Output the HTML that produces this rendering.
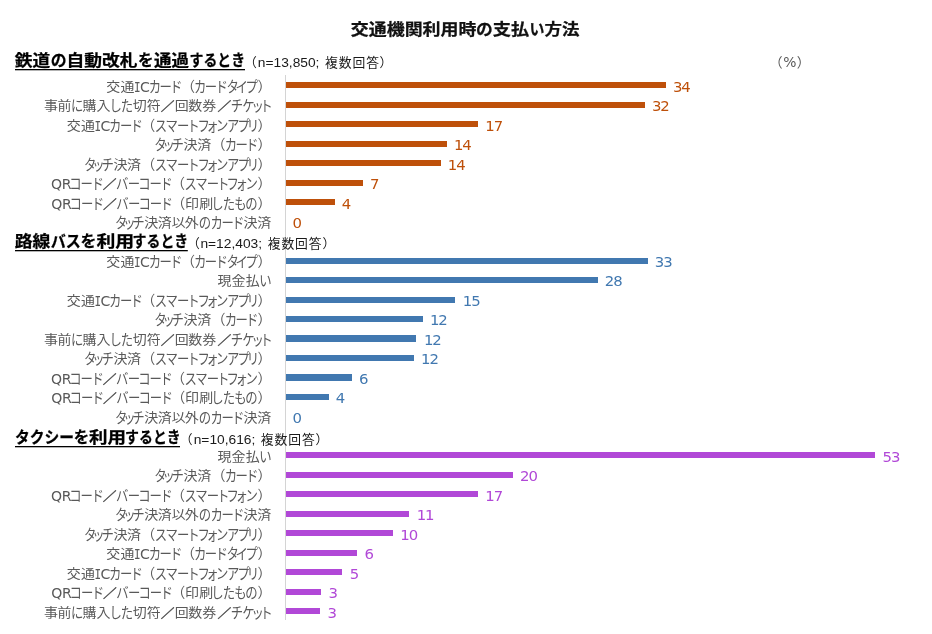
<!DOCTYPE html>
<html lang="ja"><head><meta charset="utf-8"><title>交通機関利用時の支払い方法</title>
<style>html,body{margin:0;padding:0;background:#fff}svg{display:block;font-family:'Liberation Sans','Noto Sans CJK JP',sans-serif}text{white-space:pre}</style></head><body>
<svg width="932" height="634" viewBox="0 0 932 634">
<rect width="932" height="634" fill="#fff"/>
<text aria-label="交通機関利用時の支払い方法" y="34.60" font-size="16.00" fill="#111" font-weight="bold" stroke="#111" stroke-width="0.25"><tspan x="350.86" textLength="125.58" lengthAdjust="spacingAndGlyphs">交通機関利用時</tspan><tspan x="475.91" textLength="16.76" lengthAdjust="spacingAndGlyphs" font-size="16.48">の</tspan><tspan x="492.85" textLength="36.41" lengthAdjust="spacingAndGlyphs">支払</tspan><tspan x="529.42" textLength="15.00" lengthAdjust="spacingAndGlyphs" font-size="16.48">い</tspan><tspan x="544.48" textLength="34.97" lengthAdjust="spacingAndGlyphs">方法</tspan></text>
<text aria-label="（%）" y="67.20" font-size="13.33" fill="#595959"><tspan x="769.20">（</tspan><tspan x="783.23" textLength="13.23" lengthAdjust="spacingAndGlyphs" font-family="'DejaVu Sans','Liberation Sans',sans-serif">%</tspan><tspan x="796.77">）</tspan></text>
<text aria-label="鉄道の自動改札を通過するとき" y="66.30" font-size="16.00" fill="#000" font-weight="bold" stroke="#000" stroke-width="0.25"><tspan x="14.82" textLength="35.42" lengthAdjust="spacingAndGlyphs">鉄道</tspan><tspan x="50.87" textLength="15.84" lengthAdjust="spacingAndGlyphs" font-size="16.48">の</tspan><tspan x="66.53" textLength="71.02" lengthAdjust="spacingAndGlyphs">自動改札</tspan><tspan x="138.11" textLength="15.54" lengthAdjust="spacingAndGlyphs" font-size="16.48">を</tspan><tspan x="153.95" textLength="35.09" lengthAdjust="spacingAndGlyphs">通過</tspan><tspan x="189.62" textLength="55.48" lengthAdjust="spacingAndGlyphs" font-size="16.48">するとき</tspan></text>
<rect x="15.0" y="69.0" width="230.0" height="1.3" fill="#000"/>
<text aria-label="路線バスを利用するとき" y="247.30" font-size="16.00" fill="#000" font-weight="bold" stroke="#000" stroke-width="0.25"><tspan x="14.75" textLength="35.61" lengthAdjust="spacingAndGlyphs">路線</tspan><tspan x="50.67" textLength="30.13" lengthAdjust="spacingAndGlyphs" font-size="16.48">バス</tspan><tspan x="80.59" textLength="15.90" lengthAdjust="spacingAndGlyphs" font-size="16.48">を</tspan><tspan x="96.42" textLength="37.77" lengthAdjust="spacingAndGlyphs">利用</tspan><tspan x="132.62" textLength="55.59" lengthAdjust="spacingAndGlyphs" font-size="16.48">するとき</tspan></text>
<rect x="15.0" y="250.0" width="172.8" height="1.3" fill="#000"/>
<text aria-label="タクシーを利用するとき" y="443.30" font-size="16.00" fill="#000" font-weight="bold" stroke="#000" stroke-width="0.25"><tspan x="14.91" textLength="59.01" lengthAdjust="spacingAndGlyphs" font-size="16.48">タクシー</tspan><tspan x="73.72" textLength="15.42" lengthAdjust="spacingAndGlyphs" font-size="16.48">を</tspan><tspan x="88.93" textLength="37.03" lengthAdjust="spacingAndGlyphs">利用</tspan><tspan x="125.12" textLength="55.59" lengthAdjust="spacingAndGlyphs" font-size="16.48">するとき</tspan></text>
<rect x="15.0" y="446.0" width="165.0" height="1.3" fill="#000"/>
<rect x="285" y="75" width="1" height="545" fill="#d4d4d4"/>
<text aria-label="（n=13,850; 複数回答）" y="67.40" font-size="12.80" fill="#1a1a1a"><tspan y="67.40" x="243.99">（</tspan><tspan y="66.80" x="257.80" textLength="65.49" lengthAdjust="spacingAndGlyphs" font-family="'Liberation Sans',sans-serif" font-size="13.60">n=13,850; </tspan><tspan y="67.40" x="325.12 338.81 352.49 366.18">複数回答</tspan><tspan y="67.40" x="379.56">）</tspan></text>
<rect x="286" y="82" width="380" height="6" fill="#BE500A"/>
<text aria-label="交通ICカード（カードタイプ）" y="91.90" font-size="13.33" fill="#595959"><tspan x="106.33 120.57" y="91.20" font-size="12.60" textLength="27.92" lengthAdjust="spacingAndGlyphs">交通</tspan><tspan x="134.06" y="91.90" font-size="13.70" font-family="'DejaVu Sans Mono','Liberation Mono',monospace" textLength="6.59" lengthAdjust="spacingAndGlyphs">I</tspan><tspan x="140.13" y="91.90" font-size="13.70" font-family="'DejaVu Sans','Liberation Sans',sans-serif" textLength="9.85" lengthAdjust="spacingAndGlyphs">C</tspan><tspan x="148.63 159.56 170.09" y="92.40" font-size="14.80" textLength="37.13" lengthAdjust="spacingAndGlyphs">カード</tspan><tspan x="180.90" y="90.90" font-size="14.00">（</tspan><tspan x="194.03 204.66 215.59 226.48 235.57 245.50" y="92.40" font-size="14.80" textLength="74.25" lengthAdjust="spacingAndGlyphs">カードタイプ</tspan><tspan x="257.55" y="90.90" font-size="14.00">）</tspan></text>
<text x="672.98 681.38" y="91.90" font-size="13.33" fill="#BE500A" font-family="'DejaVu Sans','Liberation Sans',sans-serif" textLength="18.96" lengthAdjust="spacingAndGlyphs">34</text>
<rect x="286" y="102" width="359" height="6" fill="#BE500A"/>
<text aria-label="事前に購入した切符／回数券／チケット" y="110.90" font-size="13.33" fill="#595959"><tspan x="44.02 57.62" y="110.20" font-size="12.60" textLength="27.92" lengthAdjust="spacingAndGlyphs">事前</tspan><tspan x="70.96" y="111.40" font-size="14.80" textLength="12.38" lengthAdjust="spacingAndGlyphs">に</tspan><tspan x="82.59 96.43" y="110.20" font-size="12.60" textLength="27.92" lengthAdjust="spacingAndGlyphs">購入</tspan><tspan x="109.38 120.75" y="111.40" font-size="14.80" textLength="24.75" lengthAdjust="spacingAndGlyphs">した</tspan><tspan x="132.68 146.66" y="110.20" font-size="12.60" textLength="27.92" lengthAdjust="spacingAndGlyphs">切符</tspan><tspan x="160.77" y="111.20" font-size="12.60" stroke="#595959" stroke-width="0.45" textLength="13.76" lengthAdjust="spacingAndGlyphs">／</tspan><tspan x="174.87 188.18 202.27" y="110.20" font-size="12.60" textLength="41.89" lengthAdjust="spacingAndGlyphs">回数券</tspan><tspan x="217.47" y="111.20" font-size="12.60" stroke="#595959" stroke-width="0.45" textLength="13.76" lengthAdjust="spacingAndGlyphs">／</tspan><tspan x="230.71 242.29 251.54 260.18" y="111.40" font-size="14.80" textLength="49.50" lengthAdjust="spacingAndGlyphs">チケット</tspan></text>
<text x="651.98 660.38" y="110.90" font-size="13.33" fill="#BE500A" font-family="'DejaVu Sans','Liberation Sans',sans-serif" textLength="18.96" lengthAdjust="spacingAndGlyphs">32</text>
<rect x="286" y="121" width="192" height="6" fill="#BE500A"/>
<text aria-label="交通ICカード（スマートフォンアプリ）" y="130.90" font-size="13.33" fill="#595959"><tspan x="66.73 80.97" y="130.20" font-size="12.60" textLength="27.92" lengthAdjust="spacingAndGlyphs">交通</tspan><tspan x="94.46" y="130.90" font-size="13.70" font-family="'DejaVu Sans Mono','Liberation Mono',monospace" textLength="6.59" lengthAdjust="spacingAndGlyphs">I</tspan><tspan x="100.53" y="130.90" font-size="13.70" font-family="'DejaVu Sans','Liberation Sans',sans-serif" textLength="9.85" lengthAdjust="spacingAndGlyphs">C</tspan><tspan x="109.03 119.96 130.49" y="131.40" font-size="14.80" textLength="37.13" lengthAdjust="spacingAndGlyphs">カード</tspan><tspan x="141.30" y="129.90" font-size="14.00">（</tspan><tspan x="154.76 165.53 176.91 187.13 197.53 206.20 216.11 226.97 237.45 246.79" y="131.40" font-size="14.80" textLength="123.75" lengthAdjust="spacingAndGlyphs">スマートフォンアプリ</tspan><tspan x="257.40" y="129.90" font-size="14.00">）</tspan></text>
<text x="485.36 493.76" y="130.90" font-size="13.33" fill="#BE500A" font-family="'DejaVu Sans','Liberation Sans',sans-serif" textLength="18.96" lengthAdjust="spacingAndGlyphs">17</text>
<rect x="286" y="141" width="161" height="6" fill="#BE500A"/>
<text aria-label="タッチ決済（カード）" y="149.90" font-size="13.33" fill="#595959"><tspan x="154.18 162.44 171.51" y="150.40" font-size="14.80" textLength="37.13" lengthAdjust="spacingAndGlyphs">タッチ</tspan><tspan x="183.50 197.15" y="149.20" font-size="12.60" textLength="27.92" lengthAdjust="spacingAndGlyphs">決済</tspan><tspan x="211.40" y="148.90" font-size="14.00">（</tspan><tspan x="224.68 235.61 245.94" y="150.40" font-size="14.80" textLength="37.13" lengthAdjust="spacingAndGlyphs">カード</tspan><tspan x="257.55" y="148.90" font-size="14.00">）</tspan></text>
<text x="453.96 462.36" y="149.90" font-size="13.33" fill="#BE500A" font-family="'DejaVu Sans','Liberation Sans',sans-serif" textLength="18.96" lengthAdjust="spacingAndGlyphs">14</text>
<rect x="286" y="160" width="155" height="6" fill="#BE500A"/>
<text aria-label="タッチ決済（スマートフォンアプリ）" y="169.90" font-size="13.33" fill="#595959"><tspan x="84.08 92.34 101.41" y="170.40" font-size="14.80" textLength="37.13" lengthAdjust="spacingAndGlyphs">タッチ</tspan><tspan x="113.40 127.05" y="169.20" font-size="12.60" textLength="27.92" lengthAdjust="spacingAndGlyphs">決済</tspan><tspan x="141.30" y="168.90" font-size="14.00">（</tspan><tspan x="154.76 165.53 176.91 187.13 197.53 206.20 216.11 226.97 237.45 246.79" y="170.40" font-size="14.80" textLength="123.75" lengthAdjust="spacingAndGlyphs">スマートフォンアプリ</tspan><tspan x="257.40" y="168.90" font-size="14.00">）</tspan></text>
<text x="447.86 456.26" y="169.90" font-size="13.33" fill="#BE500A" font-family="'DejaVu Sans','Liberation Sans',sans-serif" textLength="18.96" lengthAdjust="spacingAndGlyphs">14</text>
<rect x="286" y="180" width="77" height="6" fill="#BE500A"/>
<text aria-label="QRコード／バーコード（スマートフォン）" y="188.90" font-size="13.33" fill="#595959"><tspan x="51.08 61.75" y="188.90" font-size="13.70" font-family="'DejaVu Sans','Liberation Sans',sans-serif" textLength="20.82" lengthAdjust="spacingAndGlyphs">QR</tspan><tspan x="69.30 80.61 91.39" y="189.40" font-size="14.80" textLength="37.13" lengthAdjust="spacingAndGlyphs">コード</tspan><tspan x="102.67" y="189.20" font-size="12.60" stroke="#595959" stroke-width="0.45" textLength="13.76" lengthAdjust="spacingAndGlyphs">／</tspan><tspan x="116.06 127.81 138.15 149.41 160.24" y="189.40" font-size="14.80" textLength="61.88" lengthAdjust="spacingAndGlyphs">バーコード</tspan><tspan x="171.00" y="187.90" font-size="14.00">（</tspan><tspan x="184.56 195.33 206.71 216.93 226.58 235.60 245.51" y="189.40" font-size="14.80" textLength="86.63" lengthAdjust="spacingAndGlyphs">スマートフォン</tspan><tspan x="257.55" y="187.90" font-size="14.00">）</tspan></text>
<text x="370.01" y="188.90" font-size="13.33" fill="#BE500A" font-family="'DejaVu Sans','Liberation Sans',sans-serif" textLength="9.48" lengthAdjust="spacingAndGlyphs">7</text>
<rect x="286" y="199" width="49" height="6" fill="#BE500A"/>
<text aria-label="QRコード／バーコード（印刷したもの）" y="208.90" font-size="13.33" fill="#595959"><tspan x="51.38 62.05" y="208.90" font-size="13.70" font-family="'DejaVu Sans','Liberation Sans',sans-serif" textLength="20.82" lengthAdjust="spacingAndGlyphs">QR</tspan><tspan x="69.60 80.91 91.69" y="209.40" font-size="14.80" textLength="37.13" lengthAdjust="spacingAndGlyphs">コード</tspan><tspan x="102.97" y="209.20" font-size="12.60" stroke="#595959" stroke-width="0.45" textLength="13.76" lengthAdjust="spacingAndGlyphs">／</tspan><tspan x="116.36 128.11 138.45 149.71 160.54" y="209.40" font-size="14.80" textLength="61.88" lengthAdjust="spacingAndGlyphs">バーコード</tspan><tspan x="171.30" y="207.90" font-size="14.00">（</tspan><tspan x="185.14 199.22" y="208.20" font-size="12.60" textLength="27.92" lengthAdjust="spacingAndGlyphs">印刷</tspan><tspan x="211.23 222.80 234.28 245.19" y="209.40" font-size="14.80" textLength="49.50" lengthAdjust="spacingAndGlyphs">したもの</tspan><tspan x="257.55" y="207.90" font-size="14.00">）</tspan></text>
<text x="341.75" y="208.90" font-size="13.33" fill="#BE500A" font-family="'DejaVu Sans','Liberation Sans',sans-serif" textLength="9.48" lengthAdjust="spacingAndGlyphs">4</text>
<text aria-label="タッチ決済以外のカード決済" y="227.90" font-size="13.33" fill="#595959"><tspan x="114.88 123.14 132.21" y="228.40" font-size="14.80" textLength="37.13" lengthAdjust="spacingAndGlyphs">タッチ</tspan><tspan x="144.15 157.80 171.48 184.75" y="227.20" font-size="12.60" textLength="55.85" lengthAdjust="spacingAndGlyphs">決済以外</tspan><tspan x="198.84 210.53 221.51 231.89" y="228.40" font-size="14.80" textLength="49.50" lengthAdjust="spacingAndGlyphs">のカード</tspan><tspan x="243.45 257.30" y="227.20" font-size="12.60" textLength="27.92" lengthAdjust="spacingAndGlyphs">決済</tspan></text>
<text x="292.43" y="227.90" font-size="13.33" fill="#BE500A" font-family="'DejaVu Sans','Liberation Sans',sans-serif" textLength="9.48" lengthAdjust="spacingAndGlyphs">0</text>
<text aria-label="（n=12,403; 複数回答）" y="248.20" font-size="12.80" fill="#1a1a1a"><tspan y="248.20" x="186.99">（</tspan><tspan y="247.60" x="200.40" textLength="65.49" lengthAdjust="spacingAndGlyphs" font-family="'Liberation Sans',sans-serif" font-size="13.60">n=12,403; </tspan><tspan y="248.20" x="267.72 281.41 295.09 308.78">複数回答</tspan><tspan y="248.20" x="322.41">）</tspan></text>
<rect x="286" y="258" width="362" height="6" fill="#4178B0"/>
<text aria-label="交通ICカード（カードタイプ）" y="266.90" font-size="13.33" fill="#595959"><tspan x="106.33 120.57" y="266.20" font-size="12.60" textLength="27.92" lengthAdjust="spacingAndGlyphs">交通</tspan><tspan x="134.06" y="266.90" font-size="13.70" font-family="'DejaVu Sans Mono','Liberation Mono',monospace" textLength="6.59" lengthAdjust="spacingAndGlyphs">I</tspan><tspan x="140.13" y="266.90" font-size="13.70" font-family="'DejaVu Sans','Liberation Sans',sans-serif" textLength="9.85" lengthAdjust="spacingAndGlyphs">C</tspan><tspan x="148.63 159.56 170.09" y="267.40" font-size="14.80" textLength="37.13" lengthAdjust="spacingAndGlyphs">カード</tspan><tspan x="180.90" y="265.90" font-size="14.00">（</tspan><tspan x="194.03 204.66 215.59 226.48 235.57 245.50" y="267.40" font-size="14.80" textLength="74.25" lengthAdjust="spacingAndGlyphs">カードタイプ</tspan><tspan x="257.55" y="265.90" font-size="14.00">）</tspan></text>
<text x="654.78 663.18" y="266.90" font-size="13.33" fill="#4178B0" font-family="'DejaVu Sans','Liberation Sans',sans-serif" textLength="18.96" lengthAdjust="spacingAndGlyphs">33</text>
<rect x="286" y="277" width="312" height="6" fill="#4178B0"/>
<text aria-label="現金払い" y="285.90" font-size="13.33" fill="#595959"><tspan x="217.53 231.63 245.83" y="285.20" font-size="12.60" textLength="41.89" lengthAdjust="spacingAndGlyphs">現金払</tspan><tspan x="259.28" y="286.40" font-size="14.80" textLength="12.38" lengthAdjust="spacingAndGlyphs">い</tspan></text>
<text x="604.85 613.25" y="285.90" font-size="13.33" fill="#4178B0" font-family="'DejaVu Sans','Liberation Sans',sans-serif" textLength="18.96" lengthAdjust="spacingAndGlyphs">28</text>
<rect x="286" y="297" width="169" height="6" fill="#4178B0"/>
<text aria-label="交通ICカード（スマートフォンアプリ）" y="305.90" font-size="13.33" fill="#595959"><tspan x="66.73 80.97" y="305.20" font-size="12.60" textLength="27.92" lengthAdjust="spacingAndGlyphs">交通</tspan><tspan x="94.46" y="305.90" font-size="13.70" font-family="'DejaVu Sans Mono','Liberation Mono',monospace" textLength="6.59" lengthAdjust="spacingAndGlyphs">I</tspan><tspan x="100.53" y="305.90" font-size="13.70" font-family="'DejaVu Sans','Liberation Sans',sans-serif" textLength="9.85" lengthAdjust="spacingAndGlyphs">C</tspan><tspan x="109.03 119.96 130.49" y="306.40" font-size="14.80" textLength="37.13" lengthAdjust="spacingAndGlyphs">カード</tspan><tspan x="141.30" y="304.90" font-size="14.00">（</tspan><tspan x="154.76 165.53 176.91 187.13 197.53 206.20 216.11 226.97 237.45 246.79" y="306.40" font-size="14.80" textLength="123.75" lengthAdjust="spacingAndGlyphs">スマートフォンアプリ</tspan><tspan x="257.40" y="304.90" font-size="14.00">）</tspan></text>
<text x="462.76 471.16" y="305.90" font-size="13.33" fill="#4178B0" font-family="'DejaVu Sans','Liberation Sans',sans-serif" textLength="18.96" lengthAdjust="spacingAndGlyphs">15</text>
<rect x="286" y="316" width="137" height="6" fill="#4178B0"/>
<text aria-label="タッチ決済（カード）" y="324.90" font-size="13.33" fill="#595959"><tspan x="154.18 162.44 171.51" y="325.40" font-size="14.80" textLength="37.13" lengthAdjust="spacingAndGlyphs">タッチ</tspan><tspan x="183.50 197.15" y="324.20" font-size="12.60" textLength="27.92" lengthAdjust="spacingAndGlyphs">決済</tspan><tspan x="211.40" y="323.90" font-size="14.00">（</tspan><tspan x="224.68 235.61 245.94" y="325.40" font-size="14.80" textLength="37.13" lengthAdjust="spacingAndGlyphs">カード</tspan><tspan x="257.55" y="323.90" font-size="14.00">）</tspan></text>
<text x="429.96 438.36" y="324.90" font-size="13.33" fill="#4178B0" font-family="'DejaVu Sans','Liberation Sans',sans-serif" textLength="18.96" lengthAdjust="spacingAndGlyphs">12</text>
<rect x="286" y="335" width="130" height="7" fill="#4178B0"/>
<text aria-label="事前に購入した切符／回数券／チケット" y="344.90" font-size="13.33" fill="#595959"><tspan x="44.02 57.62" y="344.20" font-size="12.60" textLength="27.92" lengthAdjust="spacingAndGlyphs">事前</tspan><tspan x="70.96" y="345.40" font-size="14.80" textLength="12.38" lengthAdjust="spacingAndGlyphs">に</tspan><tspan x="82.59 96.43" y="344.20" font-size="12.60" textLength="27.92" lengthAdjust="spacingAndGlyphs">購入</tspan><tspan x="109.38 120.75" y="345.40" font-size="14.80" textLength="24.75" lengthAdjust="spacingAndGlyphs">した</tspan><tspan x="132.68 146.66" y="344.20" font-size="12.60" textLength="27.92" lengthAdjust="spacingAndGlyphs">切符</tspan><tspan x="160.77" y="345.20" font-size="12.60" stroke="#595959" stroke-width="0.45" textLength="13.76" lengthAdjust="spacingAndGlyphs">／</tspan><tspan x="174.87 188.18 202.27" y="344.20" font-size="12.60" textLength="41.89" lengthAdjust="spacingAndGlyphs">回数券</tspan><tspan x="217.47" y="345.20" font-size="12.60" stroke="#595959" stroke-width="0.45" textLength="13.76" lengthAdjust="spacingAndGlyphs">／</tspan><tspan x="230.71 242.29 251.54 260.18" y="345.40" font-size="14.80" textLength="49.50" lengthAdjust="spacingAndGlyphs">チケット</tspan></text>
<text x="423.96 432.36" y="344.90" font-size="13.33" fill="#4178B0" font-family="'DejaVu Sans','Liberation Sans',sans-serif" textLength="18.96" lengthAdjust="spacingAndGlyphs">12</text>
<rect x="286" y="355" width="128" height="6" fill="#4178B0"/>
<text aria-label="タッチ決済（スマートフォンアプリ）" y="363.90" font-size="13.33" fill="#595959"><tspan x="84.08 92.34 101.41" y="364.40" font-size="14.80" textLength="37.13" lengthAdjust="spacingAndGlyphs">タッチ</tspan><tspan x="113.40 127.05" y="363.20" font-size="12.60" textLength="27.92" lengthAdjust="spacingAndGlyphs">決済</tspan><tspan x="141.30" y="362.90" font-size="14.00">（</tspan><tspan x="154.76 165.53 176.91 187.13 197.53 206.20 216.11 226.97 237.45 246.79" y="364.40" font-size="14.80" textLength="123.75" lengthAdjust="spacingAndGlyphs">スマートフォンアプリ</tspan><tspan x="257.40" y="362.90" font-size="14.00">）</tspan></text>
<text x="421.06 429.46" y="363.90" font-size="13.33" fill="#4178B0" font-family="'DejaVu Sans','Liberation Sans',sans-serif" textLength="18.96" lengthAdjust="spacingAndGlyphs">12</text>
<rect x="286" y="374" width="66" height="7" fill="#4178B0"/>
<text aria-label="QRコード／バーコード（スマートフォン）" y="383.90" font-size="13.33" fill="#595959"><tspan x="51.08 61.75" y="383.90" font-size="13.70" font-family="'DejaVu Sans','Liberation Sans',sans-serif" textLength="20.82" lengthAdjust="spacingAndGlyphs">QR</tspan><tspan x="69.30 80.61 91.39" y="384.40" font-size="14.80" textLength="37.13" lengthAdjust="spacingAndGlyphs">コード</tspan><tspan x="102.67" y="384.20" font-size="12.60" stroke="#595959" stroke-width="0.45" textLength="13.76" lengthAdjust="spacingAndGlyphs">／</tspan><tspan x="116.06 127.81 138.15 149.41 160.24" y="384.40" font-size="14.80" textLength="61.88" lengthAdjust="spacingAndGlyphs">バーコード</tspan><tspan x="171.00" y="382.90" font-size="14.00">（</tspan><tspan x="184.56 195.33 206.71 216.93 226.58 235.60 245.51" y="384.40" font-size="14.80" textLength="86.63" lengthAdjust="spacingAndGlyphs">スマートフォン</tspan><tspan x="257.55" y="382.90" font-size="14.00">）</tspan></text>
<text x="358.95" y="383.90" font-size="13.33" fill="#4178B0" font-family="'DejaVu Sans','Liberation Sans',sans-serif" textLength="9.48" lengthAdjust="spacingAndGlyphs">6</text>
<rect x="286" y="394" width="43" height="6" fill="#4178B0"/>
<text aria-label="QRコード／バーコード（印刷したもの）" y="402.90" font-size="13.33" fill="#595959"><tspan x="51.38 62.05" y="402.90" font-size="13.70" font-family="'DejaVu Sans','Liberation Sans',sans-serif" textLength="20.82" lengthAdjust="spacingAndGlyphs">QR</tspan><tspan x="69.60 80.91 91.69" y="403.40" font-size="14.80" textLength="37.13" lengthAdjust="spacingAndGlyphs">コード</tspan><tspan x="102.97" y="403.20" font-size="12.60" stroke="#595959" stroke-width="0.45" textLength="13.76" lengthAdjust="spacingAndGlyphs">／</tspan><tspan x="116.36 128.11 138.45 149.71 160.54" y="403.40" font-size="14.80" textLength="61.88" lengthAdjust="spacingAndGlyphs">バーコード</tspan><tspan x="171.30" y="401.90" font-size="14.00">（</tspan><tspan x="185.14 199.22" y="402.20" font-size="12.60" textLength="27.92" lengthAdjust="spacingAndGlyphs">印刷</tspan><tspan x="211.23 222.80 234.28 245.19" y="403.40" font-size="14.80" textLength="49.50" lengthAdjust="spacingAndGlyphs">したもの</tspan><tspan x="257.55" y="401.90" font-size="14.00">）</tspan></text>
<text x="335.75" y="402.90" font-size="13.33" fill="#4178B0" font-family="'DejaVu Sans','Liberation Sans',sans-serif" textLength="9.48" lengthAdjust="spacingAndGlyphs">4</text>
<text aria-label="タッチ決済以外のカード決済" y="422.90" font-size="13.33" fill="#595959"><tspan x="114.88 123.14 132.21" y="423.40" font-size="14.80" textLength="37.13" lengthAdjust="spacingAndGlyphs">タッチ</tspan><tspan x="144.15 157.80 171.48 184.75" y="422.20" font-size="12.60" textLength="55.85" lengthAdjust="spacingAndGlyphs">決済以外</tspan><tspan x="198.84 210.53 221.51 231.89" y="423.40" font-size="14.80" textLength="49.50" lengthAdjust="spacingAndGlyphs">のカード</tspan><tspan x="243.45 257.30" y="422.20" font-size="12.60" textLength="27.92" lengthAdjust="spacingAndGlyphs">決済</tspan></text>
<text x="292.43" y="422.90" font-size="13.33" fill="#4178B0" font-family="'DejaVu Sans','Liberation Sans',sans-serif" textLength="9.48" lengthAdjust="spacingAndGlyphs">0</text>
<text aria-label="（n=10,616; 複数回答）" y="444.20" font-size="12.80" fill="#1a1a1a"><tspan y="444.20" x="179.84">（</tspan><tspan y="443.60" x="193.70" textLength="65.49" lengthAdjust="spacingAndGlyphs" font-family="'Liberation Sans',sans-serif" font-size="13.60">n=10,616; </tspan><tspan y="444.20" x="260.82 274.51 288.19 301.88">複数回答</tspan><tspan y="444.20" x="315.51">）</tspan></text>
<rect x="286" y="452" width="589" height="6" fill="#B148D7"/>
<text aria-label="現金払い" y="461.90" font-size="13.33" fill="#595959"><tspan x="217.53 231.63 245.83" y="461.20" font-size="12.60" textLength="41.89" lengthAdjust="spacingAndGlyphs">現金払</tspan><tspan x="259.28" y="462.40" font-size="14.80" textLength="12.38" lengthAdjust="spacingAndGlyphs">い</tspan></text>
<text x="882.58 890.98" y="461.90" font-size="13.33" fill="#B148D7" font-family="'DejaVu Sans','Liberation Sans',sans-serif" textLength="18.96" lengthAdjust="spacingAndGlyphs">53</text>
<rect x="286" y="472" width="227" height="6" fill="#B148D7"/>
<text aria-label="タッチ決済（カード）" y="480.90" font-size="13.33" fill="#595959"><tspan x="154.18 162.44 171.51" y="481.40" font-size="14.80" textLength="37.13" lengthAdjust="spacingAndGlyphs">タッチ</tspan><tspan x="183.50 197.15" y="480.20" font-size="12.60" textLength="27.92" lengthAdjust="spacingAndGlyphs">決済</tspan><tspan x="211.40" y="479.90" font-size="14.00">（</tspan><tspan x="224.68 235.61 245.94" y="481.40" font-size="14.80" textLength="37.13" lengthAdjust="spacingAndGlyphs">カード</tspan><tspan x="257.55" y="479.90" font-size="14.00">）</tspan></text>
<text x="520.05 528.45" y="480.90" font-size="13.33" fill="#B148D7" font-family="'DejaVu Sans','Liberation Sans',sans-serif" textLength="18.96" lengthAdjust="spacingAndGlyphs">20</text>
<rect x="286" y="491" width="192" height="6" fill="#B148D7"/>
<text aria-label="QRコード／バーコード（スマートフォン）" y="500.90" font-size="13.33" fill="#595959"><tspan x="51.08 61.75" y="500.90" font-size="13.70" font-family="'DejaVu Sans','Liberation Sans',sans-serif" textLength="20.82" lengthAdjust="spacingAndGlyphs">QR</tspan><tspan x="69.30 80.61 91.39" y="501.40" font-size="14.80" textLength="37.13" lengthAdjust="spacingAndGlyphs">コード</tspan><tspan x="102.67" y="501.20" font-size="12.60" stroke="#595959" stroke-width="0.45" textLength="13.76" lengthAdjust="spacingAndGlyphs">／</tspan><tspan x="116.06 127.81 138.15 149.41 160.24" y="501.40" font-size="14.80" textLength="61.88" lengthAdjust="spacingAndGlyphs">バーコード</tspan><tspan x="171.00" y="499.90" font-size="14.00">（</tspan><tspan x="184.56 195.33 206.71 216.93 226.58 235.60 245.51" y="501.40" font-size="14.80" textLength="86.63" lengthAdjust="spacingAndGlyphs">スマートフォン</tspan><tspan x="257.55" y="499.90" font-size="14.00">）</tspan></text>
<text x="485.36 493.76" y="500.90" font-size="13.33" fill="#B148D7" font-family="'DejaVu Sans','Liberation Sans',sans-serif" textLength="18.96" lengthAdjust="spacingAndGlyphs">17</text>
<rect x="286" y="511" width="123" height="6" fill="#B148D7"/>
<text aria-label="タッチ決済以外のカード決済" y="519.90" font-size="13.33" fill="#595959"><tspan x="114.88 123.14 132.21" y="520.40" font-size="14.80" textLength="37.13" lengthAdjust="spacingAndGlyphs">タッチ</tspan><tspan x="144.15 157.80 171.48 184.75" y="519.20" font-size="12.60" textLength="55.85" lengthAdjust="spacingAndGlyphs">決済以外</tspan><tspan x="198.84 210.53 221.51 231.89" y="520.40" font-size="14.80" textLength="49.50" lengthAdjust="spacingAndGlyphs">のカード</tspan><tspan x="243.45 257.30" y="519.20" font-size="12.60" textLength="27.92" lengthAdjust="spacingAndGlyphs">決済</tspan></text>
<text x="416.66 425.06" y="519.90" font-size="13.33" fill="#B148D7" font-family="'DejaVu Sans','Liberation Sans',sans-serif" textLength="18.96" lengthAdjust="spacingAndGlyphs">11</text>
<rect x="286" y="530" width="107" height="6" fill="#B148D7"/>
<text aria-label="タッチ決済（スマートフォンアプリ）" y="539.90" font-size="13.33" fill="#595959"><tspan x="84.08 92.34 101.41" y="540.40" font-size="14.80" textLength="37.13" lengthAdjust="spacingAndGlyphs">タッチ</tspan><tspan x="113.40 127.05" y="539.20" font-size="12.60" textLength="27.92" lengthAdjust="spacingAndGlyphs">決済</tspan><tspan x="141.30" y="538.90" font-size="14.00">（</tspan><tspan x="154.76 165.53 176.91 187.13 197.53 206.20 216.11 226.97 237.45 246.79" y="540.40" font-size="14.80" textLength="123.75" lengthAdjust="spacingAndGlyphs">スマートフォンアプリ</tspan><tspan x="257.40" y="538.90" font-size="14.00">）</tspan></text>
<text x="400.36 408.76" y="539.90" font-size="13.33" fill="#B148D7" font-family="'DejaVu Sans','Liberation Sans',sans-serif" textLength="18.96" lengthAdjust="spacingAndGlyphs">10</text>
<rect x="286" y="550" width="71" height="6" fill="#B148D7"/>
<text aria-label="交通ICカード（カードタイプ）" y="558.90" font-size="13.33" fill="#595959"><tspan x="106.33 120.57" y="558.20" font-size="12.60" textLength="27.92" lengthAdjust="spacingAndGlyphs">交通</tspan><tspan x="134.06" y="558.90" font-size="13.70" font-family="'DejaVu Sans Mono','Liberation Mono',monospace" textLength="6.59" lengthAdjust="spacingAndGlyphs">I</tspan><tspan x="140.13" y="558.90" font-size="13.70" font-family="'DejaVu Sans','Liberation Sans',sans-serif" textLength="9.85" lengthAdjust="spacingAndGlyphs">C</tspan><tspan x="148.63 159.56 170.09" y="559.40" font-size="14.80" textLength="37.13" lengthAdjust="spacingAndGlyphs">カード</tspan><tspan x="180.90" y="557.90" font-size="14.00">（</tspan><tspan x="194.03 204.66 215.59 226.48 235.57 245.50" y="559.40" font-size="14.80" textLength="74.25" lengthAdjust="spacingAndGlyphs">カードタイプ</tspan><tspan x="257.55" y="557.90" font-size="14.00">）</tspan></text>
<text x="364.45" y="558.90" font-size="13.33" fill="#B148D7" font-family="'DejaVu Sans','Liberation Sans',sans-serif" textLength="9.48" lengthAdjust="spacingAndGlyphs">6</text>
<rect x="286" y="569" width="56" height="6" fill="#B148D7"/>
<text aria-label="交通ICカード（スマートフォンアプリ）" y="578.90" font-size="13.33" fill="#595959"><tspan x="66.73 80.97" y="578.20" font-size="12.60" textLength="27.92" lengthAdjust="spacingAndGlyphs">交通</tspan><tspan x="94.46" y="578.90" font-size="13.70" font-family="'DejaVu Sans Mono','Liberation Mono',monospace" textLength="6.59" lengthAdjust="spacingAndGlyphs">I</tspan><tspan x="100.53" y="578.90" font-size="13.70" font-family="'DejaVu Sans','Liberation Sans',sans-serif" textLength="9.85" lengthAdjust="spacingAndGlyphs">C</tspan><tspan x="109.03 119.96 130.49" y="579.40" font-size="14.80" textLength="37.13" lengthAdjust="spacingAndGlyphs">カード</tspan><tspan x="141.30" y="577.90" font-size="14.00">（</tspan><tspan x="154.76 165.53 176.91 187.13 197.53 206.20 216.11 226.97 237.45 246.79" y="579.40" font-size="14.80" textLength="123.75" lengthAdjust="spacingAndGlyphs">スマートフォンアプリ</tspan><tspan x="257.40" y="577.90" font-size="14.00">）</tspan></text>
<text x="349.78" y="578.90" font-size="13.33" fill="#B148D7" font-family="'DejaVu Sans','Liberation Sans',sans-serif" textLength="9.48" lengthAdjust="spacingAndGlyphs">5</text>
<rect x="286" y="589" width="35" height="6" fill="#B148D7"/>
<text aria-label="QRコード／バーコード（印刷したもの）" y="597.90" font-size="13.33" fill="#595959"><tspan x="51.38 62.05" y="597.90" font-size="13.70" font-family="'DejaVu Sans','Liberation Sans',sans-serif" textLength="20.82" lengthAdjust="spacingAndGlyphs">QR</tspan><tspan x="69.60 80.91 91.69" y="598.40" font-size="14.80" textLength="37.13" lengthAdjust="spacingAndGlyphs">コード</tspan><tspan x="102.97" y="598.20" font-size="12.60" stroke="#595959" stroke-width="0.45" textLength="13.76" lengthAdjust="spacingAndGlyphs">／</tspan><tspan x="116.36 128.11 138.45 149.71 160.54" y="598.40" font-size="14.80" textLength="61.88" lengthAdjust="spacingAndGlyphs">バーコード</tspan><tspan x="171.30" y="596.90" font-size="14.00">（</tspan><tspan x="185.14 199.22" y="597.20" font-size="12.60" textLength="27.92" lengthAdjust="spacingAndGlyphs">印刷</tspan><tspan x="211.23 222.80 234.28 245.19" y="598.40" font-size="14.80" textLength="49.50" lengthAdjust="spacingAndGlyphs">したもの</tspan><tspan x="257.55" y="596.90" font-size="14.00">）</tspan></text>
<text x="328.48" y="597.90" font-size="13.33" fill="#B148D7" font-family="'DejaVu Sans','Liberation Sans',sans-serif" textLength="9.48" lengthAdjust="spacingAndGlyphs">3</text>
<rect x="286" y="608" width="34" height="6" fill="#B148D7"/>
<text aria-label="事前に購入した切符／回数券／チケット" y="617.90" font-size="13.33" fill="#595959"><tspan x="44.02 57.62" y="617.20" font-size="12.60" textLength="27.92" lengthAdjust="spacingAndGlyphs">事前</tspan><tspan x="70.96" y="618.40" font-size="14.80" textLength="12.38" lengthAdjust="spacingAndGlyphs">に</tspan><tspan x="82.59 96.43" y="617.20" font-size="12.60" textLength="27.92" lengthAdjust="spacingAndGlyphs">購入</tspan><tspan x="109.38 120.75" y="618.40" font-size="14.80" textLength="24.75" lengthAdjust="spacingAndGlyphs">した</tspan><tspan x="132.68 146.66" y="617.20" font-size="12.60" textLength="27.92" lengthAdjust="spacingAndGlyphs">切符</tspan><tspan x="160.77" y="618.20" font-size="12.60" stroke="#595959" stroke-width="0.45" textLength="13.76" lengthAdjust="spacingAndGlyphs">／</tspan><tspan x="174.87 188.18 202.27" y="617.20" font-size="12.60" textLength="41.89" lengthAdjust="spacingAndGlyphs">回数券</tspan><tspan x="217.47" y="618.20" font-size="12.60" stroke="#595959" stroke-width="0.45" textLength="13.76" lengthAdjust="spacingAndGlyphs">／</tspan><tspan x="230.71 242.29 251.54 260.18" y="618.40" font-size="14.80" textLength="49.50" lengthAdjust="spacingAndGlyphs">チケット</tspan></text>
<text x="327.48" y="617.90" font-size="13.33" fill="#B148D7" font-family="'DejaVu Sans','Liberation Sans',sans-serif" textLength="9.48" lengthAdjust="spacingAndGlyphs">3</text>
</svg></body></html>
